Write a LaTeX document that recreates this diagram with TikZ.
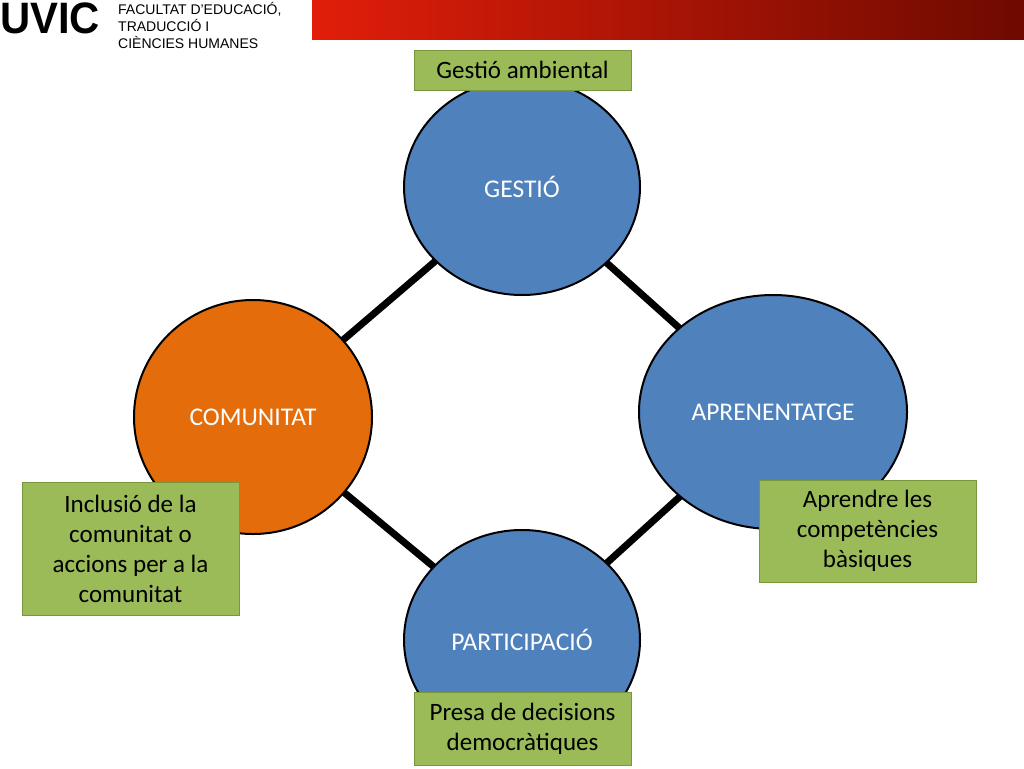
\documentclass[tikz,border=0pt]{standalone}
\usepackage{fontspec}
\setmainfont{Carlito}
\newfontfamily\hdr{Liberation Sans}
\usetikzlibrary{shapes.geometric}
\begin{document}
\begin{tikzpicture}[x=1pt,y=-1pt,
  circ/.style={ellipse,draw=black,line width=2pt,text=white,font=\fontsize{25.5}{28}\selectfont},
  blue/.style={circ,fill={rgb,255:red,79;green,129;blue,189}},
  gbox/.style={draw={rgb,255:red,120;green,150;blue,60},fill={rgb,255:red,155;green,187;blue,89},font=\fontsize{25}{30}\selectfont,align=center,inner sep=0pt},
  link/.style={line width=7pt,black}]
\useasboundingbox (0,0) rectangle (1024,768);
\shade[left color={rgb,255:red,225;green,30;blue,10},right color={rgb,255:red,110;green,10;blue,0}] (312,0) rectangle (1024,40);
\node[anchor=west,font=\hdr\bfseries\fontsize{44}{44}\selectfont,inner sep=0pt,xscale=0.95] (logo) at (0,18) {UVIC};
\node[anchor=north west,font=\hdr\fontsize{14}{17}\selectfont,align=left,inner sep=0pt] (fac) at (118,2) {FACULTAT D’EDUCACIÓ,\\TRADUCCIÓ I\\CIÈNCIES HUMANES};
\coordinate (g) at (522,187);
\coordinate (a) at (773,412);
\coordinate (c) at (253,417);
\coordinate (p) at (522,640);
\draw[link] (g) -- (a) -- (p) -- (c) -- cycle;
\node[blue,minimum width=236pt,minimum height=216pt] (G) at (g) {GESTIÓ};
\node[blue,minimum width=268pt,minimum height=234pt] (A) at (a) {APRENENTATGE};
\node[circ,fill={rgb,255:red,228;green,108;blue,10},minimum width=238pt,minimum height=234pt] (C) at (c) {COMUNITAT};
\node[blue,minimum width=236pt,minimum height=220pt] (P) at (p) {PARTICIPACIÓ};
\node[gbox,minimum width=217pt,minimum height=40pt] (b1) at (522.5,70) {Gestió ambiental};
\node[gbox,minimum width=217pt,minimum height=133pt] (b2) at (130.5,548.5) {Inclusió de la\\comunitat o\\accions per a la\\comunitat};
\node[gbox,minimum width=217pt,minimum height=102pt] (b3) at (867.5,531) {Aprendre les\\competències\\bàsiques};
\node[gbox,minimum width=217pt,minimum height=73pt] (b4) at (522.5,728.5) {Presa de decisions\\democràtiques};
\end{tikzpicture}
\end{document}
